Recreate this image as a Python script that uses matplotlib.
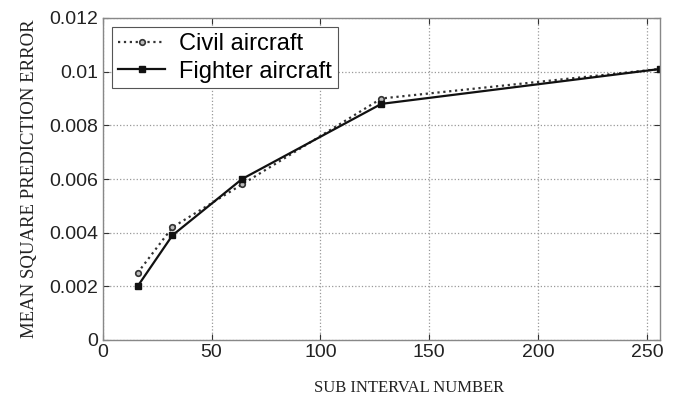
import matplotlib.pyplot as plt
import numpy as np
from matplotlib.ticker import FuncFormatter

# 数据
sub_interval = [16, 32, 64, 128, 256]
civil_err = [0.0025, 0.0042, 0.0058, 0.0090, 0.0101]
fighter_err = [0.0020, 0.0039, 0.0060, 0.0088, 0.0101]
x_ticks = [0, 50, 100, 150, 200, 250]
y_ticks = [0, 0.002, 0.004, 0.006, 0.008, 0.01, 0.012]

plt.rcParams['font.family'] = ['Liberation Sans', 'DejaVu Sans']

fig = plt.figure(figsize=(6.85, 4.0), dpi=100)
ax = fig.add_axes([0.150, 0.15, 0.8135, 0.805])

ax.plot(sub_interval, civil_err, ':', color='#333333', lw=1.6, marker='o',
        ms=4, mfc='#bbbbbb', mec='#333333', mew=1.2, label='Civil aircraft')
ax.plot(sub_interval, fighter_err, '-', color='#111111', lw=1.6, marker='s',
        ms=4, mfc='#111111', mec='#111111', label='Fighter aircraft')

ax.set_xlim(0, 256)
ax.set_ylim(0, 0.012)
ax.set_xticks(x_ticks)
ax.set_yticks(y_ticks)
ax.yaxis.set_major_formatter(FuncFormatter(lambda v, p: '%g' % v))
ax.grid(True, linestyle=':', color='#999999', lw=0.9)
ax.tick_params(direction='in', length=4, labelsize=14, colors='#333333',
               labelcolor='#222222', top=True, right=True)
ax.tick_params(axis='x', pad=3)
for s in ax.spines.values():
    s.set_color('#888888')
    s.set_linewidth(1.0)

ax.set_xlabel('SUB INTERVAL NUMBER', family=['Liberation Serif'], fontsize=12,
              color='#222222')
ax.xaxis.set_label_coords(0.55, -0.125)
ax.set_ylabel('MEAN SQUARE PREDICTION ERROR', family=['Liberation Serif'],
              fontsize=13.5, labelpad=8, color='#222222')

leg = ax.legend(loc='upper left', fontsize=17, fancybox=False, framealpha=1,
                edgecolor='#555555', handlelength=2.0, borderpad=0.25,
                labelspacing=0.22, handletextpad=0.6, borderaxespad=0.4)
leg.get_frame().set_linewidth(0.8)

fig.savefig('out.png', dpi=100)
